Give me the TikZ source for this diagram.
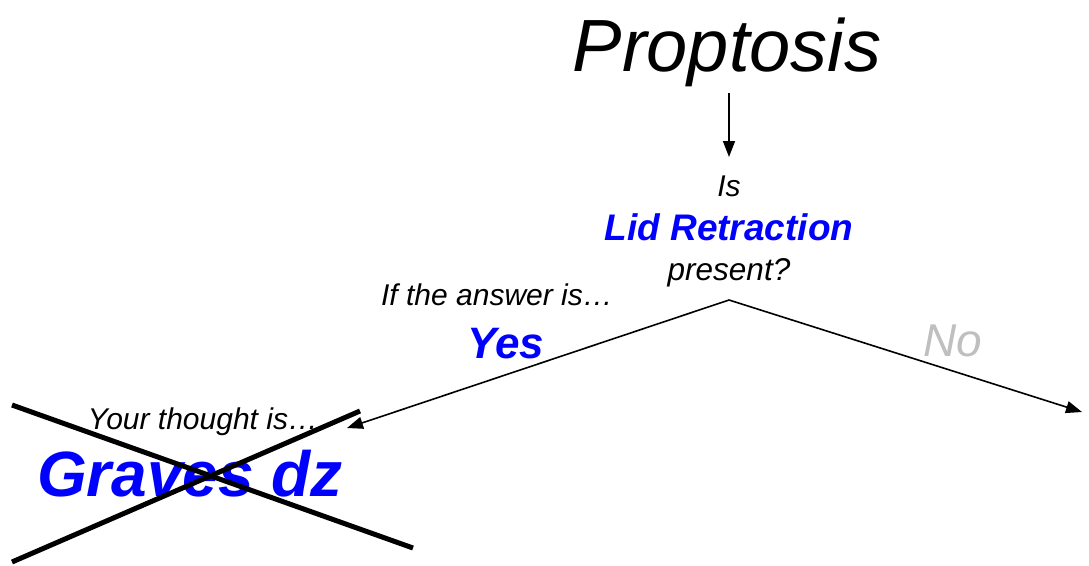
\documentclass[tikz,border=0pt]{standalone}
\usepackage{fontspec}
\setmainfont{Liberation Sans}
\usetikzlibrary{arrows.meta}
\definecolor{blueT}{RGB}{0,0,255}
\definecolor{grayT}{RGB}{191,191,191}
\tikzset{
  txt/.style={inner sep=0pt, anchor=base, font=\itshape\fontsize{30}{34}\selectfont},
  bigblue/.style={inner sep=0pt, anchor=base, text=blueT},
  conn/.style={line width=1.6pt, -{Triangle[length=16pt,width=12pt]}},
  crossline/.style={line width=5pt}
}
\begin{document}
\begin{tikzpicture}[x=1pt,y=-1pt]
\useasboundingbox (0,0) rectangle (1089,565);
\node[inner sep=0pt, anchor=base, font=\itshape\fontsize{74}{80}\selectfont] (title) at (727,71) {Proptosis};
\coordinate (ta) at (729,93);
\node[txt] (is) at (729,196) {Is};
\node[bigblue, font=\bfseries\itshape\fontsize{37}{40}\selectfont] (lid) at (729,240) {Lid Retraction};
\node[txt, font=\itshape\fontsize{31.5}{34}\selectfont] (present) at (729,280) {present?};
\coordinate (apex) at (729,300);
\node[txt] (ifans) at (497,305) {If the answer is\ldots};
\node[bigblue, font=\bfseries\itshape\fontsize{44}{48}\selectfont] (yes) at (506,358) {Yes};
\node[inner sep=0pt, anchor=base, text=grayT, font=\itshape\fontsize{46}{50}\selectfont] (no) at (953,356) {No};
\node[txt] (thought) at (203,429) {Your thought is\ldots};
\node[bigblue, font=\bfseries\itshape\fontsize{64}{70}\selectfont] (graves) at (190,496) {Graves dz};
\coordinate (lefttip) at (347,428);
\coordinate (righttip) at (1082,412);
\draw[conn] (ta) -- (729,157);
\draw[conn] (apex) -- (lefttip);
\draw[conn] (apex) -- (righttip);
\coordinate (c1a) at (12,405);
\coordinate (c1b) at (413,548);
\coordinate (c2a) at (360,411);
\coordinate (c2b) at (12,562);
\draw[crossline] (c1a) -- (c1b);
\draw[crossline] (c2a) -- (c2b);
\end{tikzpicture}
\end{document}
